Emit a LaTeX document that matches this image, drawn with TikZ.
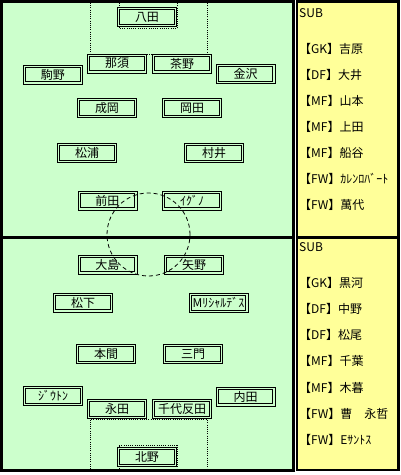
\documentclass[tikz,border=0pt]{standalone}
\usepackage{fontspec}
\newfontfamily\jpfont{Noto Sans CJK JP}
\definecolor{pitch}{HTML}{CCFFCC}
\definecolor{bench}{HTML}{FFFF99}
\tikzset{
  player/.style={draw, double=pitch, double distance=1.2pt, line width=1pt,
    fill=pitch, minimum width=56.8pt, minimum height=16.8pt, inner sep=0pt,
    font=\jpfont\fontsize{12}{14}\selectfont},
  subname/.style={anchor=west, inner sep=0pt, font=\jpfont\fontsize{12}{14}\selectfont},
  area/.style={line width=0.9pt, dash pattern=on 1pt off 1.2pt},
}
\begin{document}
\begin{tikzpicture}[x=1pt,y=-1pt]
  \useasboundingbox (0,0) rectangle (401,475);
  % pitch and bench
  \draw[line width=3pt, fill=pitch] (1.5,1.5) rectangle (293,470);
  \draw[line width=2.5pt, fill=bench] (297,1.5) rectangle (398.5,470);
  \draw[line width=3pt] (1.5,237) -- (293,237);
  \draw[line width=3pt] (297,237) -- (398.5,237);
  % penalty and goal areas
  \draw[area] (90,3) -- (90,54) -- (207,54) -- (207,3);
  \draw[area] (119,3) -- (119,28.5) -- (177,28.5) -- (177,3);
  \draw[area] (90,469) -- (90,419.5) -- (207,419.5) -- (207,469);
  \draw[area] (119,469) -- (119,445) -- (177,445) -- (177,469);
  % top team
  \node[player] (hatta)     at (147,17)    {八田};
  \node[player] (nasu)      at (117,63.5)  {那須};
  \node[player] (chano)     at (182,63.5)  {茶野};
  \node[player] (komano)    at (53,74.5)   {駒野};
  \node[player] (kanazawa)  at (245.5,74)  {金沢};
  \node[player] (naruoka)   at (107,108)   {成岡};
  \node[player] (okada)     at (192,108)   {岡田};
  \node[player] (matsuura)  at (87,153)    {松浦};
  \node[player] (murai)     at (214,153)   {村井};
  \node[player] (maeda)     at (107.5,200.5) {前田};
  \node[player] (igno)      at (192,200.5) {ｲｸﾞﾉ};
  % bottom team
  \node[player] (oshima)    at (107.5,264.5) {大島};
  \node[player] (yano)      at (194,264.5) {矢野};
  \node[player] (matsushita) at (83,302.5) {松下};
  \node[player] (richardes) at (218.5,303) {Mﾘｼｬﾙﾃﾞｽ};
  \node[player] (honma)     at (106,354)   {本間};
  \node[player] (mikado)    at (193,354)   {三門};
  \node[player] (jiuton)    at (53,396)    {ｼﾞｳﾄﾝ};
  \node[player] (nagata)    at (117,409)   {永田};
  \node[player] (chiyohanda) at (182,409)  {千代反田};
  \node[player] (uchida)    at (245.5,396.5) {内田};
  \node[player] (kitano)    at (147,457)   {北野};
  % centre circle
  \draw[line width=0.8pt, dash pattern=on 4pt off 3pt] (148.5,234.5) circle (41.5pt);
  % substitutes
  \node[subname] (subtop) at (299,13) {SUB};
  \foreach \t [count=\i] in {【GK】吉原,【DF】大井,【MF】山本,【MF】上田,【MF】船谷,【FW】ｶﾚﾝﾛﾊﾞｰﾄ,【FW】萬代}
    \node[subname] (topsub\i) at (299,48.5+26.1*\i-26.1) {\t};
  \node[subname] (subbottom) at (299,247) {SUB};
  \foreach \t [count=\i] in {【GK】黒河,【DF】中野,【DF】松尾,【MF】千葉,【MF】木暮,【FW】曹　永哲,【FW】Eｻﾝﾄｽ}
    \node[subname] (botsub\i) at (299,282.5+26.3*\i-26.3) {\t};
\end{tikzpicture}
\end{document}
